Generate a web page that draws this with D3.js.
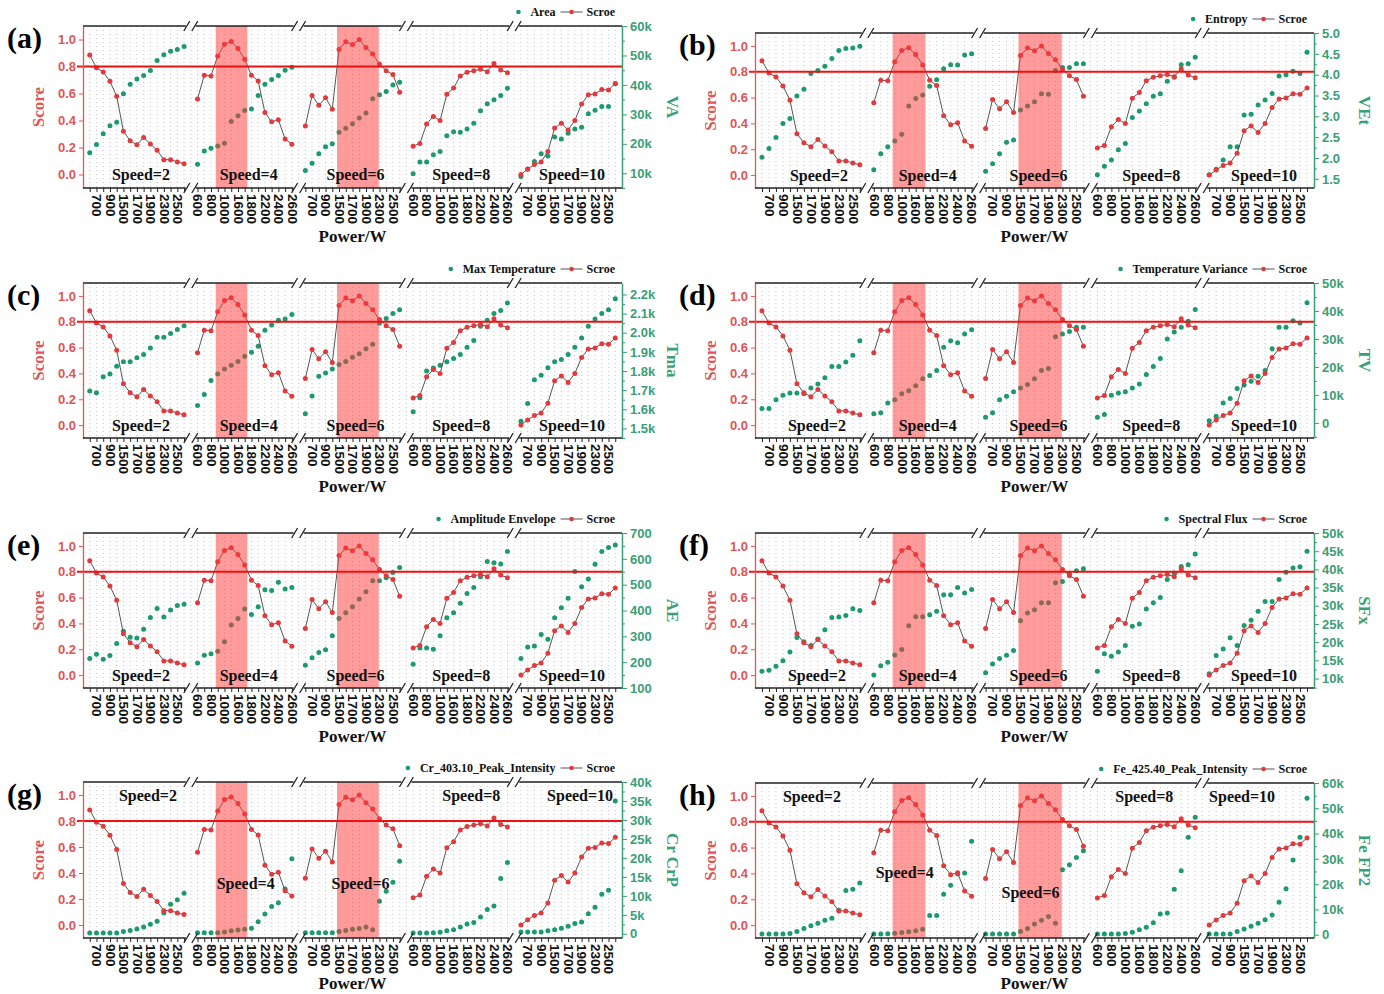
<!DOCTYPE html>
<html>
<head>
<meta charset="utf-8">
<script src="https://cdn.jsdelivr.net/npm/d3@7"></script>
<style>
  body { margin: 0; background: #fff; }
  svg { display: block; font-family: "Liberation Serif", "Times New Roman", serif; font-weight: bold; }
</style>
</head>
<body>
<svg id="chart" width="1384" height="994"></svg>
<script>
// ---- data ----
const speeds = ['Speed=2', 'Speed=4', 'Speed=6', 'Speed=8', 'Speed=10'];

// power tick labels of each speed block (every other tick is labelled)
const powerLabels = [
  ['700', '900', '1500', '1700', '1900', '2300', '2500'],
  ['600', '800', '1000', '1600', '1800', '2200', '2400', '2600'],
  ['700', '900', '1500', '1700', '1900', '2300', '2500'],
  ['600', '800', '1000', '1600', '1800', '2200', '2400', '2600'],
  ['700', '900', '1500', '1700', '1900', '2300', '2500'],
];
const firstLabelled = [1, 0, 1, 0, 1];

// score, same in every panel
const score = [
  [0.885, 0.79, 0.76, 0.69, 0.58, 0.32, 0.25, 0.22, 0.275, 0.226, 0.18, 0.11, 0.11, 0.093, 0.08],
  [0.56, 0.735, 0.73, 0.877, 0.965, 0.985, 0.934, 0.853, 0.735, 0.693, 0.46, 0.39, 0.405, 0.263, 0.224],
  [0.36, 0.585, 0.513, 0.568, 0.484, 0.926, 0.983, 0.963, 1.0, 0.941, 0.892, 0.818, 0.769, 0.74, 0.61],
  [0.21, 0.23, 0.375, 0.43, 0.40, 0.595, 0.64, 0.73, 0.757, 0.769, 0.779, 0.762, 0.823, 0.774, 0.754],
  [0.0, 0.04, 0.074, 0.093, 0.17, 0.344, 0.38, 0.33, 0.40, 0.523, 0.59, 0.597, 0.63, 0.626, 0.675],
];

// red bands (block, from index, to index)
const bands = [[1, 2.7, 7.4], [2, 4.7, 10.9]];
const threshold = 0.8;

const area = [ // k
  [17.0, 19.8, 23.4, 26.1, 27.3, 37.0, 40.2, 42.0, 43.2, 44.9, 48.3, 50.2, 51.4, 52.0, 53.0],
  [13.1, 17.6, 18.5, 19.3, 20.2, 27.6, 29.5, 31.3, 31.8, 36.4, 40.2, 41.8, 43.2, 45.0, 46.0],
  [10.9, 13.4, 16.6, 19.0, 20.0, 23.9, 25.3, 26.8, 28.75, 30.5, 35.3, 36.7, 37.8, 40.0, 40.9],
  [9.8, 13.8, 13.8, 16.3, 17.4, 22.7, 24.1, 23.9, 25.0, 27.0, 31.2, 33.6, 35.0, 36.4, 38.9],
  [8.9, 11.4, 14.0, 16.6, 15.9, 22.3, 21.6, 23.6, 25.0, 25.6, 30.2, 31.4, 32.7, 32.7, 40.4],
];
const entropy = [
  [2.02, 2.23, 2.49, 2.83, 2.95, 3.49, 3.65, 4.03, 4.10, 4.20, 4.39, 4.58, 4.63, 4.64, 4.68],
  [1.72, 2.10, 2.27, 2.41, 2.57, 3.25, 3.43, 3.51, 3.72, 3.88, 4.14, 4.24, 4.23, 4.47, 4.50],
  [1.68, 1.86, 2.10, 2.38, 2.43, 3.15, 3.25, 3.35, 3.54, 3.53, 4.10, 4.17, 4.17, 4.26, 4.26],
  [1.60, 1.80, 1.95, 2.20, 2.35, 2.97, 3.13, 3.30, 3.48, 3.54, 3.84, 3.94, 4.24, 4.26, 4.42],
  [1.60, 1.73, 1.95, 2.27, 2.27, 3.03, 3.05, 3.27, 3.39, 3.55, 3.97, 4.00, 4.08, 4.03, 4.54],
];
const maxTemp = [ // k
  [1.695, 1.686, 1.77, 1.785, 1.825, 1.848, 1.848, 1.87, 1.886, 1.92, 1.977, 1.977, 1.996, 2.017, 2.037],
  [1.62, 1.677, 1.75, 1.785, 1.81, 1.83, 1.85, 1.877, 1.898, 1.93, 2.013, 2.04, 2.065, 2.072, 2.095],
  [1.577, 1.67, 1.773, 1.79, 1.81, 1.834, 1.85, 1.872, 1.89, 1.917, 1.94, 2.05, 2.074, 2.10, 2.12],
  [1.587, 1.66, 1.80, 1.816, 1.83, 1.848, 1.865, 1.886, 1.924, 1.96, 2.034, 2.065, 2.10, 2.116, 2.156],
  [1.538, 1.63, 1.755, 1.778, 1.817, 1.848, 1.86, 1.886, 1.924, 1.973, 2.034, 2.072, 2.10, 2.12, 2.178],
];
const tempVar = [ // k
  [5.1, 5.1, 8.3, 9.9, 10.7, 10.7, 10.4, 12.5, 13.9, 16.1, 20.2, 20.2, 21.8, 24.2, 29.4],
  [3.3, 3.6, 7.1, 8.3, 10.4, 11.5, 13.3, 15.8, 16.9, 18.7, 27.0, 29.4, 28.6, 31.8, 33.3],
  [2.0, 3.6, 8.3, 9.5, 11.1, 12.5, 13.7, 15.8, 18.7, 19.4, 30.8, 31.8, 32.7, 34.2, 34.2],
  [2.0, 3.0, 9.9, 10.7, 11.1, 12.5, 13.9, 17.3, 20.2, 23.0, 30.0, 32.5, 34.2, 36.3, 40.5],
  [0.8, 2.4, 7.1, 8.7, 12.3, 13.5, 14.9, 16.7, 18.7, 26.5, 34.2, 34.2, 36.5, 35.7, 42.9],
];
const ampEnv = [
  [214, 231, 211, 226, 272, 320, 296, 294, 327, 373, 408, 375, 402, 419, 424],
  [197, 227, 233, 242, 279, 344, 369, 406, 385, 415, 480, 477, 509, 483, 489],
  [188, 217, 237, 248, 302, 369, 391, 415, 445, 473, 515, 515, 527, 547, 566],
  [192, 255, 255, 250, 302, 372, 391, 428, 466, 489, 531, 590, 585, 580, 628],
  [214, 259, 263, 307, 289, 372, 411, 447, 551, 492, 522, 579, 628, 644, 654],
];
const specFlux = [ // k
  [12.0, 12.3, 13.4, 14.9, 17.3, 21.3, 20.1, 19.1, 20.9, 23.4, 26.8, 26.9, 27.3, 29.2, 28.7],
  [11.0, 13.5, 14.5, 16.5, 18.0, 24.5, 27.0, 27.0, 27.5, 28.5, 33.0, 33.0, 35.0, 33.5, 34.5],
  [11.6, 14.0, 15.5, 16.4, 17.7, 25.9, 28.0, 28.9, 30.8, 30.8, 36.3, 36.7, 38.7, 39.6, 40.2],
  [12.0, 16.8, 16.1, 17.3, 19.1, 24.4, 25.0, 29.1, 30.8, 32.3, 37.2, 39.0, 40.8, 41.3, 44.2],
  [11.3, 16.3, 18.1, 21.2, 19.1, 24.6, 26.0, 28.5, 31.2, 31.2, 37.2, 39.2, 40.4, 40.7, 45.0],
];
const crPeak = [ // k
  [0.2, 0.2, 0.2, 0.2, 0.2, 0.6, 0.9, 1.3, 1.8, 2.5, 3.3, 5.5, 7.8, 9.0, 10.7],
  [0.3, 0.3, 0.3, 0.3, 0.5, 0.8, 1.0, 1.2, 1.5, 3.2, 5.2, 7.2, 8.2, 11.8, 19.8],
  [0.3, 0.3, 0.3, 0.3, 0.3, 0.6, 0.9, 1.2, 1.4, 1.8, 1.1, 8.6, 11.2, 13.6, 19.1],
  [0.2, 0.2, 0.2, 0.3, 0.4, 0.8, 1.1, 1.8, 2.6, 3.0, 4.4, 6.4, 7.3, 14.6, 18.8],
  [0.5, 0.5, 0.5, 0.5, 0.8, 1.1, 1.5, 2.0, 2.7, 3.1, 5.3, 7.0, 10.4, 11.5, 35.0],
];
const fePeak = [ // k
  [0.3, 0.3, 0.3, 0.3, 0.5, 1.3, 2.5, 3.5, 4.5, 5.7, 6.5, 9.7, 17.5, 18.0, 20.5],
  [0.3, 0.3, 0.4, 0.6, 0.9, 1.2, 1.6, 2.2, 7.6, 7.6, 16.0, 19.6, 24.0, 24.4, 37.0],
  [0.3, 0.3, 0.3, 0.3, 0.3, 1.3, 2.5, 4.2, 5.7, 7.2, 4.5, 25.7, 27.7, 30.5, 33.2],
  [0.3, 0.3, 0.3, 0.3, 0.5, 1.0, 2.0, 3.0, 4.7, 8.2, 8.6, 18.0, 25.3, 38.5, 46.5],
  [0.3, 0.3, 0.3, 0.3, 1.3, 2.3, 3.3, 4.5, 5.9, 7.8, 12.8, 18.2, 29.5, 38.5, 54.0],
];

const kFmt = (d) => d === 0 ? '0' : d + 'k';

const panels = [
  { id: '(a)', name: 'Area', title: 'VA', values: area, domain: [5, 60], ticks: d3.range(10, 61, 10), fmt: kFmt,
    box: [83, 622, 26, 188], speedPos: [[4, 0], [4, 0], [3, 0], [1, 0], [4, 0]] },
  { id: '(b)', name: 'Entropy', title: 'VEt', values: entropy, domain: [1.28, 5.0], ticks: d3.range(1.5, 5.01, 0.5), fmt: d3.format('.1f'),
    box: [755, 1314, 33, 188], speedPos: [[8, 0], [5, 0], [4, 0], [5, 0], [6, 0]] },
  { id: '(c)', name: 'Max Temperature', title: 'Tma', values: maxTemp, domain: [1.45, 2.26], ticks: d3.range(1.5, 2.21, 0.1), fmt: (d) => d3.format('.1f')(d) + 'k',
    box: [83, 622, 283, 438], speedPos: [[4, 0], [4, 0], [3, 0], [1, 0], [4, 0]] },
  { id: '(d)', name: 'Temperature Variance', title: 'TV', values: tempVar, domain: [-5.4, 50], ticks: d3.range(0, 51, 10), fmt: kFmt,
    box: [755, 1314, 283, 438], speedPos: [[6, 0], [5, 0], [4, 0], [5, 0], [6, 0]] },
  { id: '(e)', name: 'Amplitude  Envelope', title: 'AE', values: ampEnv, domain: [100, 700], ticks: d3.range(100, 701, 100), fmt: d3.format('d'),
    box: [83, 622, 533, 688], speedPos: [[4, 0], [4, 0], [3, 0], [1, 0], [4, 0]] },
  { id: '(f)', name: 'Spectral Flux', title: 'SFx', values: specFlux, domain: [7.4, 50], ticks: d3.range(10, 51, 5), fmt: kFmt,
    box: [755, 1314, 533, 688], speedPos: [[6, 0], [5, 0], [4, 0], [5, 0], [6, 0]] },
  { id: '(g)', name: 'Cr_403.10_Peak_Intensity', title: 'Cr CrP', values: crPeak, domain: [-1.1, 40], ticks: d3.range(0, 41, 5), fmt: kFmt,
    box: [83, 622, 782, 938], speedPos: [[11, 1.0], [1, 0.32], [8, 0.32], [11, 1.0], [12, 1.0]] },
  { id: '(h)', name: 'Fe_425.40_Peak_Intensity', title: 'Fe FP2', values: fePeak, domain: [-1.3, 60], ticks: d3.range(0, 61, 10), fmt: kFmt,
    box: [755, 1314, 783, 938], speedPos: [[1, 1.0], [-18, 0.41], [-4, 0.25], [-2, 1.0], [-16, 1.0]] },
];

// ---- drawing ----
const RED = '#e4393c';
const RED_TXT = '#e05555';
const GREEN = '#1b9a6c';
const GREEN_TXT = '#3a9e77';

const svg = d3.select('#chart');
const slot = (s, i) => s * 16 + i;

panels.forEach(drawPanel);

function drawPanel(p) {
  const [x0, x1, y0, y1] = p.box;
  const x = d3.scaleLinear().domain([-1, 79]).range([x0, x1]);
  const yS = d3.scaleLinear().domain([-0.1, 1.1]).range([y1, y0]);
  const yR = d3.scaleLinear().domain(p.domain).range([y1, y0]);
  const g = svg.append('g');

  // dotted grid
  g.append('g').selectAll('line')
    .data(d3.range(0, 79))
    .join('line')
      .attr('x1', (d) => x(d)).attr('x2', (d) => x(d))
      .attr('y1', y0).attr('y2', y1)
      .attr('stroke', '#b8b8b8')
      .attr('stroke-width', 0.8)
      .attr('stroke-dasharray', '1,3');

  // feature dots
  const pts = p.values.flatMap((seg, s) => seg.map((v, i) => ({ k: slot(s, i), v })));
  g.append('g').selectAll('circle')
    .data(pts)
    .join('circle')
      .attr('cx', (d) => x(d.k))
      .attr('cy', (d) => yR(d.v))
      .attr('r', 2.5)
      .attr('fill', GREEN);

  // score lines and dots
  const line = d3.line().x((d) => x(d.k)).y((d) => yS(d.v));
  const scorePts = score.map((seg, s) => seg.map((v, i) => ({ k: slot(s, i), v })));
  g.append('g').selectAll('path')
    .data(scorePts)
    .join('path')
      .attr('d', line)
      .attr('fill', 'none')
      .attr('stroke', '#555')
      .attr('stroke-width', 1);
  g.append('g').selectAll('circle')
    .data(scorePts.flat())
    .join('circle')
      .attr('cx', (d) => x(d.k))
      .attr('cy', (d) => yS(d.v))
      .attr('r', 2.5)
      .attr('fill', RED);

  // highlighted bands
  g.append('g').selectAll('rect')
    .data(bands)
    .join('rect')
      .attr('x', (d) => x(slot(d[0], d[1])))
      .attr('width', (d) => x(slot(d[0], d[2])) - x(slot(d[0], d[1])))
      .attr('y', y0)
      .attr('height', y1 - y0)
      .attr('fill', 'rgb(255,55,55)')
      .attr('opacity', 0.5);

  // threshold line
  g.append('line')
    .attr('x1', x0 - 6).attr('x2', x1)
    .attr('y1', yS(threshold)).attr('y2', yS(threshold))
    .attr('stroke', '#ee1111')
    .attr('stroke-width', 2);

  // speed labels
  g.append('g').selectAll('text')
    .data(speeds)
    .join('text')
      .attr('x', (d, s) => x(slot(s, 7)) + p.speedPos[s][0])
      .attr('y', (d, s) => yS(p.speedPos[s][1]))
      .attr('dy', '0.35em')
      .attr('text-anchor', 'middle')
      .attr('font-size', 16)
      .attr('fill', '#111')
      .text((d) => d);

  // left axis (score)
  const left = g.append('g')
    .attr('transform', `translate(${x0},0)`)
    .call(d3.axisLeft(yS).tickValues([0, 0.2, 0.4, 0.6, 0.8, 1.0]).tickFormat(d3.format('.1f')).tickSize(4).tickSizeOuter(0));
  left.select('.domain').attr('stroke', RED_TXT).attr('stroke-width', 1.3);
  left.selectAll('.tick line').attr('stroke', RED_TXT);
  left.selectAll('text').attr('fill', RED_TXT).attr('font-size', 13).attr('font-family', null);

  // right axis (feature)
  const minor = p.ticks.slice(0, -1).map((t, i) => (t + p.ticks[i + 1]) / 2)
    .concat([p.ticks[0] - (p.ticks[1] - p.ticks[0]) / 2])
    .filter((t) => t >= p.domain[0] && t <= p.domain[1]);
  const rightMinor = g.append('g')
    .attr('transform', `translate(${x1},0)`)
    .call(d3.axisRight(yR).tickValues(minor).tickFormat('').tickSize(3).tickSizeOuter(0));
  rightMinor.selectAll('line').attr('stroke', GREEN_TXT);
  rightMinor.select('.domain').remove();
  const right = g.append('g')
    .attr('transform', `translate(${x1},0)`)
    .call(d3.axisRight(yR).tickValues(p.ticks).tickFormat(p.fmt).tickSize(5).tickSizeOuter(0));
  right.select('.domain').attr('stroke', GREEN_TXT).attr('stroke-width', 1.5);
  right.selectAll('.tick line').attr('stroke', GREEN_TXT);
  right.selectAll('text').attr('fill', GREEN_TXT).attr('font-size', 13).attr('font-family', null);

  // bottom axis: ticks at each power, labels on every other one
  const tickSlots = d3.range(5).flatMap((s) => d3.range(15).map((i) => slot(s, i)));
  const labelOf = (k) => {
    const s = Math.floor(k / 16);
    const j = (k % 16) - firstLabelled[s];
    return j >= 0 && j % 2 === 0 ? (powerLabels[s][j / 2] || '') : '';
  };
  const bottom = g.append('g')
    .attr('transform', `translate(0,${y1})`)
    .call(d3.axisBottom(x).tickValues(tickSlots).tickFormat(labelOf).tickSize(4));
  bottom.select('.domain').remove();
  bottom.selectAll('.tick line').attr('stroke', '#222');
  bottom.selectAll('text')
    .attr('font-size', 13.5)
    .attr('font-family', null)
    .attr('fill', '#111')
    .attr('y', 0)
    .attr('x', 6)
    .attr('dy', '0.35em')
    .attr('transform', 'rotate(90)')
    .style('text-anchor', 'start');

  // broken top and bottom borders
  const pieces = d3.range(5).map((s) => [
    s === 0 ? x0 : x(slot(s, -1)) + 5,
    s === 4 ? x1 : x(slot(s, 15)) - 5,
  ]);
  [y0, y1].forEach((yy) => {
    g.append('g').selectAll('line')
      .data(pieces)
      .join('line')
        .attr('x1', (d) => d[0]).attr('x2', (d) => d[1])
        .attr('y1', yy).attr('y2', yy)
        .attr('stroke', '#222')
        .attr('stroke-width', 1.4);
    g.append('g').selectAll('path')
      .data(d3.range(4).map((s) => x(slot(s, 15))))
      .join('path')
        .attr('d', (bx) => `M${bx - 7},${yy + 5}L${bx - 1},${yy - 5}M${bx + 1},${yy + 5}L${bx + 7},${yy - 5}`)
        .attr('stroke', '#222')
        .attr('stroke-width', 1.3)
        .attr('fill', 'none');
  });

  // axis titles and panel id
  const midY = (y0 + y1) / 2;
  g.append('text')
    .attr('transform', `translate(${x0 - 45},${midY}) rotate(-90)`)
    .attr('text-anchor', 'middle')
    .attr('dy', '0.35em')
    .attr('font-size', 17)
    .attr('fill', RED_TXT)
    .text('Score');
  g.append('text')
    .attr('transform', `translate(${x1 + 51},${midY}) rotate(90)`)
    .attr('text-anchor', 'middle')
    .attr('dy', '0.35em')
    .attr('font-size', 17)
    .attr('fill', GREEN_TXT)
    .text(p.title);
  g.append('text')
    .attr('x', (x0 + x1) / 2)
    .attr('y', Math.min(y1 + 54, 989))
    .attr('text-anchor', 'middle')
    .attr('font-size', 17)
    .attr('fill', '#111')
    .text('Power/W');
  g.append('text')
    .attr('x', x0 - 76)
    .attr('y', y0 + 22)
    .attr('font-size', 30)
    .attr('fill', '#000')
    .text(p.id);

  // legend
  const lg = g.append('g').attr('font-size', 12).attr('fill', '#111');
  lg.append('circle').attr('cx', 0).attr('cy', 0).attr('r', 2.3).attr('fill', GREEN);
  const t1 = lg.append('text').attr('x', 12).attr('dy', '0.35em').text(p.name);
  const e1 = 12 + t1.node().getComputedTextLength();
  lg.append('line').attr('x1', e1 + 5).attr('x2', e1 + 27).attr('y1', 0).attr('y2', 0)
    .attr('stroke', '#555').attr('stroke-width', 1);
  lg.append('circle').attr('cx', e1 + 16).attr('cy', 0).attr('r', 2.3).attr('fill', RED);
  const t2 = lg.append('text').attr('x', e1 + 31).attr('dy', '0.35em').text('Scroe');
  const e2 = e1 + 31 + t2.node().getComputedTextLength();
  lg.attr('transform', `translate(${x1 - 7 - e2},${y0 - 14})`);
}
</script>
</body>
</html>
